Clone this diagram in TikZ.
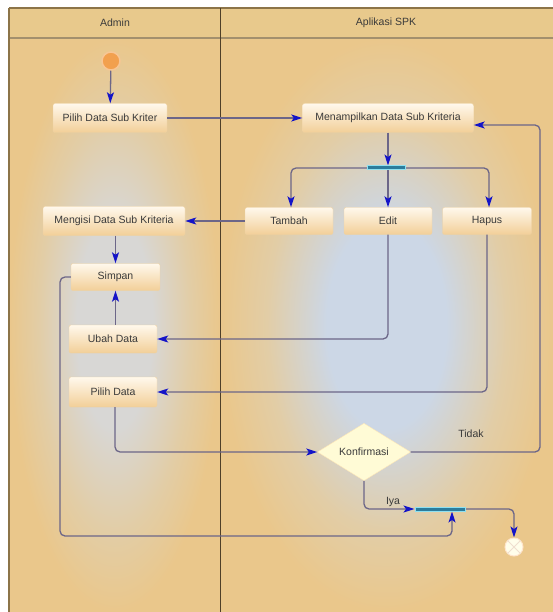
\documentclass[tikz,border=0pt]{standalone}
\usepackage{fontspec}
\setmainfont{Liberation Sans}
\usetikzlibrary{arrows.meta,shapes.geometric,calc}

\definecolor{laneedge}{HTML}{EAC78B}
\definecolor{lanesoft}{HTML}{E2CDA6}
\definecolor{adminmid}{HTML}{D8D7D5}
\definecolor{appmid}{HTML}{CCD7E6}
\definecolor{headfill}{HTML}{E8C98C}
\definecolor{frameline}{HTML}{8C7448}
\definecolor{divline}{HTML}{4E3F28}
\definecolor{boxtop}{HTML}{FFF8EC}
\definecolor{boxbot}{HTML}{F2CF98}
\definecolor{boxline}{HTML}{EFD2A2}
\definecolor{txt}{HTML}{3A3A3A}
\definecolor{wire}{HTML}{6C6688}
\definecolor{tipblue}{HTML}{1414C8}
\definecolor{barblue}{HTML}{2C7C9C}
\definecolor{barglow}{HTML}{8FE0F0}
\definecolor{startorange}{HTML}{F2A04E}
\definecolor{decfill}{HTML}{FFFBD6}

% lane fills: a wide pale centre fading to tan at the lane borders
\pgfdeclareradialshading{adminlane}{\pgfpoint{0bp}{0bp}}{%
  color(0bp)=(adminmid); color(9bp)=(adminmid); color(18bp)=(lanesoft);
  color(25bp)=(laneedge); color(50bp)=(laneedge)}
\pgfdeclareradialshading{applane}{\pgfpoint{0bp}{0bp}}{%
  color(0bp)=(appmid); color(9bp)=(appmid); color(18bp)=(lanesoft);
  color(25bp)=(laneedge); color(50bp)=(laneedge)}

\tikzset{
  lbl/.style={font=\fontsize{10.5}{12}\selectfont, text=txt},
  act/.style={rectangle, rounded corners=2pt, draw=boxline, top color=boxtop,
    bottom color=boxbot, inner sep=0pt, lbl},
  decision/.style={diamond, fill=decfill, draw=decfill!85!orange, inner sep=0pt,
    minimum width=93pt, minimum height=56pt, lbl},
  syncbar/.style={rectangle, fill=barblue, draw=barglow, line width=1pt,
    minimum height=4pt, inner sep=0pt},
  flow/.style={draw=wire, line width=1.3pt, rounded corners=5pt,
    -{Stealth[length=11pt,width=7pt,inset=2.5pt,color=tipblue]}},
}

\begin{document}
\begin{tikzpicture}[x=1pt,y=-1pt]
\useasboundingbox (0,0) rectangle (553,612);

% swimlane backgrounds
\fill[white] (0,0) rectangle (553,612);
\shade[shading=adminlane] (9,38) rectangle (220,612);
\shade[shading=applane] (220,38) rectangle (553,612);
\fill[headfill] (9,8) rectangle (553,38);
\draw[frameline, line width=1.4pt] (9,8) -- (553,8);
\draw[frameline!80, line width=1.2pt] (9,38) -- (553,38);
\draw[frameline, line width=1.4pt] (9,8) -- (9,612);
\draw[divline, line width=0.9pt] (220,8) -- (220,612);
\node[lbl] (hAdmin) at (115,23) {Admin};
\node[lbl] (hApp) at (386,23) {Aplikasi SPK};

% activities
\node[circle, fill=startorange, draw=startorange!60!white, line width=1.5pt,
  minimum size=18pt, inner sep=0pt] (start) at (111,61) {};
\node[act, minimum width=114pt, minimum height=29pt] (pilihsub) at (110,118) {Pilih Data Sub Kriter};
\node[act, minimum width=171pt, minimum height=29pt] (tampil) at (388,118) {Menampilkan Data Sub Kriteria};
\node[syncbar, minimum width=38pt] (fork) at (386,168) {};
\node[act, minimum width=88pt, minimum height=27pt] (tambah) at (289,221) {Tambah};
\node[act, minimum width=88pt, minimum height=27pt] (edit) at (388,221) {Edit};
\node[act, minimum width=89pt, minimum height=27pt] (hapus) at (487,221) {Hapus};
\node[act, minimum width=142pt, minimum height=29pt] (mengisi) at (114,221) {Mengisi Data Sub Kriteria};
\node[act, minimum width=89pt, minimum height=27pt] (simpan) at (115.5,277) {Simpan};
\node[act, minimum width=88pt, minimum height=28pt] (ubah) at (113,339) {Ubah Data};
\node[act, minimum width=88pt, minimum height=30pt] (pilihdata) at (113,392) {Pilih Data};
\node[decision] (konf) at (364,452) {Konfirmasi};
\node[syncbar, minimum width=50pt] (join) at (440,509) {};
\node[circle, fill=white!92!yellow, draw=white!80!orange, line width=1pt,
  minimum size=18pt, inner sep=0pt] (final) at (514,547) {};
\draw[white!75!brown, line width=1pt] (final.north east) -- (final.south west)
  (final.north west) -- (final.south east);

% loop corners
\coordinate (loopR) at (540,452);
\coordinate (loopL) at (60,536);

% connectors
\draw[flow] (start) -- (pilihsub);
\draw[flow] (pilihsub.east) -- (tampil.west);
\draw[flow] (tampil.south) -- (tampil.south |- fork.north);
\draw[flow] (fork.center) -| ([xshift=2pt]tambah.north);
\draw[flow] (edit.north |- fork.center) -- (edit.north);
\draw[flow] (fork.center) -| ([xshift=2pt]hapus.north);
\draw[flow] (tambah.west) -- (mengisi.east);
\draw[flow] (mengisi.south -| simpan.south) -- (simpan.north);
\draw[flow] (simpan.south |- ubah.north) -- (simpan.south);
\draw[flow] (edit.south) |- (ubah.east);
\draw[flow] (hapus.south) |- (pilihdata.east);
\draw[flow] ([xshift=2pt]pilihdata.south) |- (konf.west);
\draw[flow] (konf.east) -- (loopR) |- ([yshift=-7pt]tampil.east);
\draw[flow] (konf.south) |- (join.west);
\draw[flow] (simpan.west) -| (loopL) -| ([xshift=12pt]join.south);
\draw[flow] (join.east) -| (final.north);

% redraw bars over the wires
\node[syncbar, minimum width=38pt] at (fork) {};
\node[syncbar, minimum width=50pt] at (join) {};

% guard labels
\node[lbl] (tidak) at (471,434) {Tidak};
\node[lbl] (iya) at (393,502) {Iya};
\end{tikzpicture}
\end{document}
